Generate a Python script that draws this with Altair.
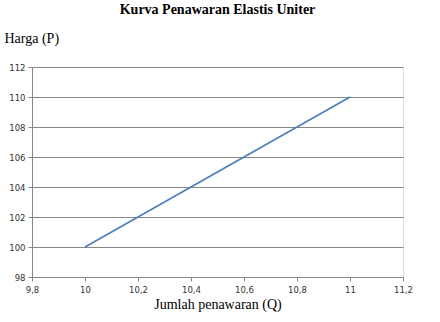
import altair as alt
import pandas as pd

q_values = [10, 11]
p_values = [100, 110]
x_ticks = [9.8, 10.0, 10.2, 10.4, 10.6, 10.8, 11.0, 11.2]
y_ticks = [98, 100, 102, 104, 106, 108, 110, 112]

df = pd.DataFrame({"Q": q_values, "P": p_values})

x_label_expr = "replace(format(datum.value, '.1~f'), '.', ',')"

chart = alt.Chart(df).mark_line(color="#4a7ebb", strokeWidth=1.6).encode(
    x=alt.X("Q:Q", scale=alt.Scale(domain=[9.8, 11.2], nice=False, zero=False),
            axis=alt.Axis(values=x_ticks, labelExpr=x_label_expr, grid=False,
                          title="Jumlah penawaran (Q)", titleFont="Liberation Serif",
                          titleFontSize=14, titleFontWeight="normal", titleColor="#000",
                          titlePadding=4, labelFont="DejaVu Sans", labelFontSize=8.5,
                          labelColor="#333", labelPadding=4, tickSize=4,
                          tickColor="#868686", domainColor="#868686", labelFlush=False)),
    y=alt.Y("P:Q", scale=alt.Scale(domain=[98, 112], nice=False, zero=False),
            axis=alt.Axis(values=y_ticks, grid=True, gridColor="#868686",
                          title="Harga (P)", titleAngle=0, titleAlign="left",
                          titleBaseline="alphabetic", titleX=-28, titleY=-25,
                          titleFont="Liberation Serif", titleFontSize=14,
                          titleFontWeight="normal", titleColor="#000",
                          labelFont="DejaVu Sans", labelFontSize=8.5, labelColor="#333",
                          labelPadding=3, tickSize=4, tickColor="#868686",
                          domainColor="#868686")),
).properties(
    width=371,
    height=210,
    title=alt.TitleParams("Kurva Penawaran Elastis Uniter", font="Liberation Serif",
                          fontSize=14, fontWeight="bold", color="#000",
                          anchor="middle", offset=14),
    padding={"left": 32, "top": 67, "right": 37, "bottom": 45},
    autosize=alt.AutoSizeParams(type="none"),
).configure_view(stroke=None).configure(background="white")

chart.save("out.html", embed_options={"renderer": "svg", "actions": False})
